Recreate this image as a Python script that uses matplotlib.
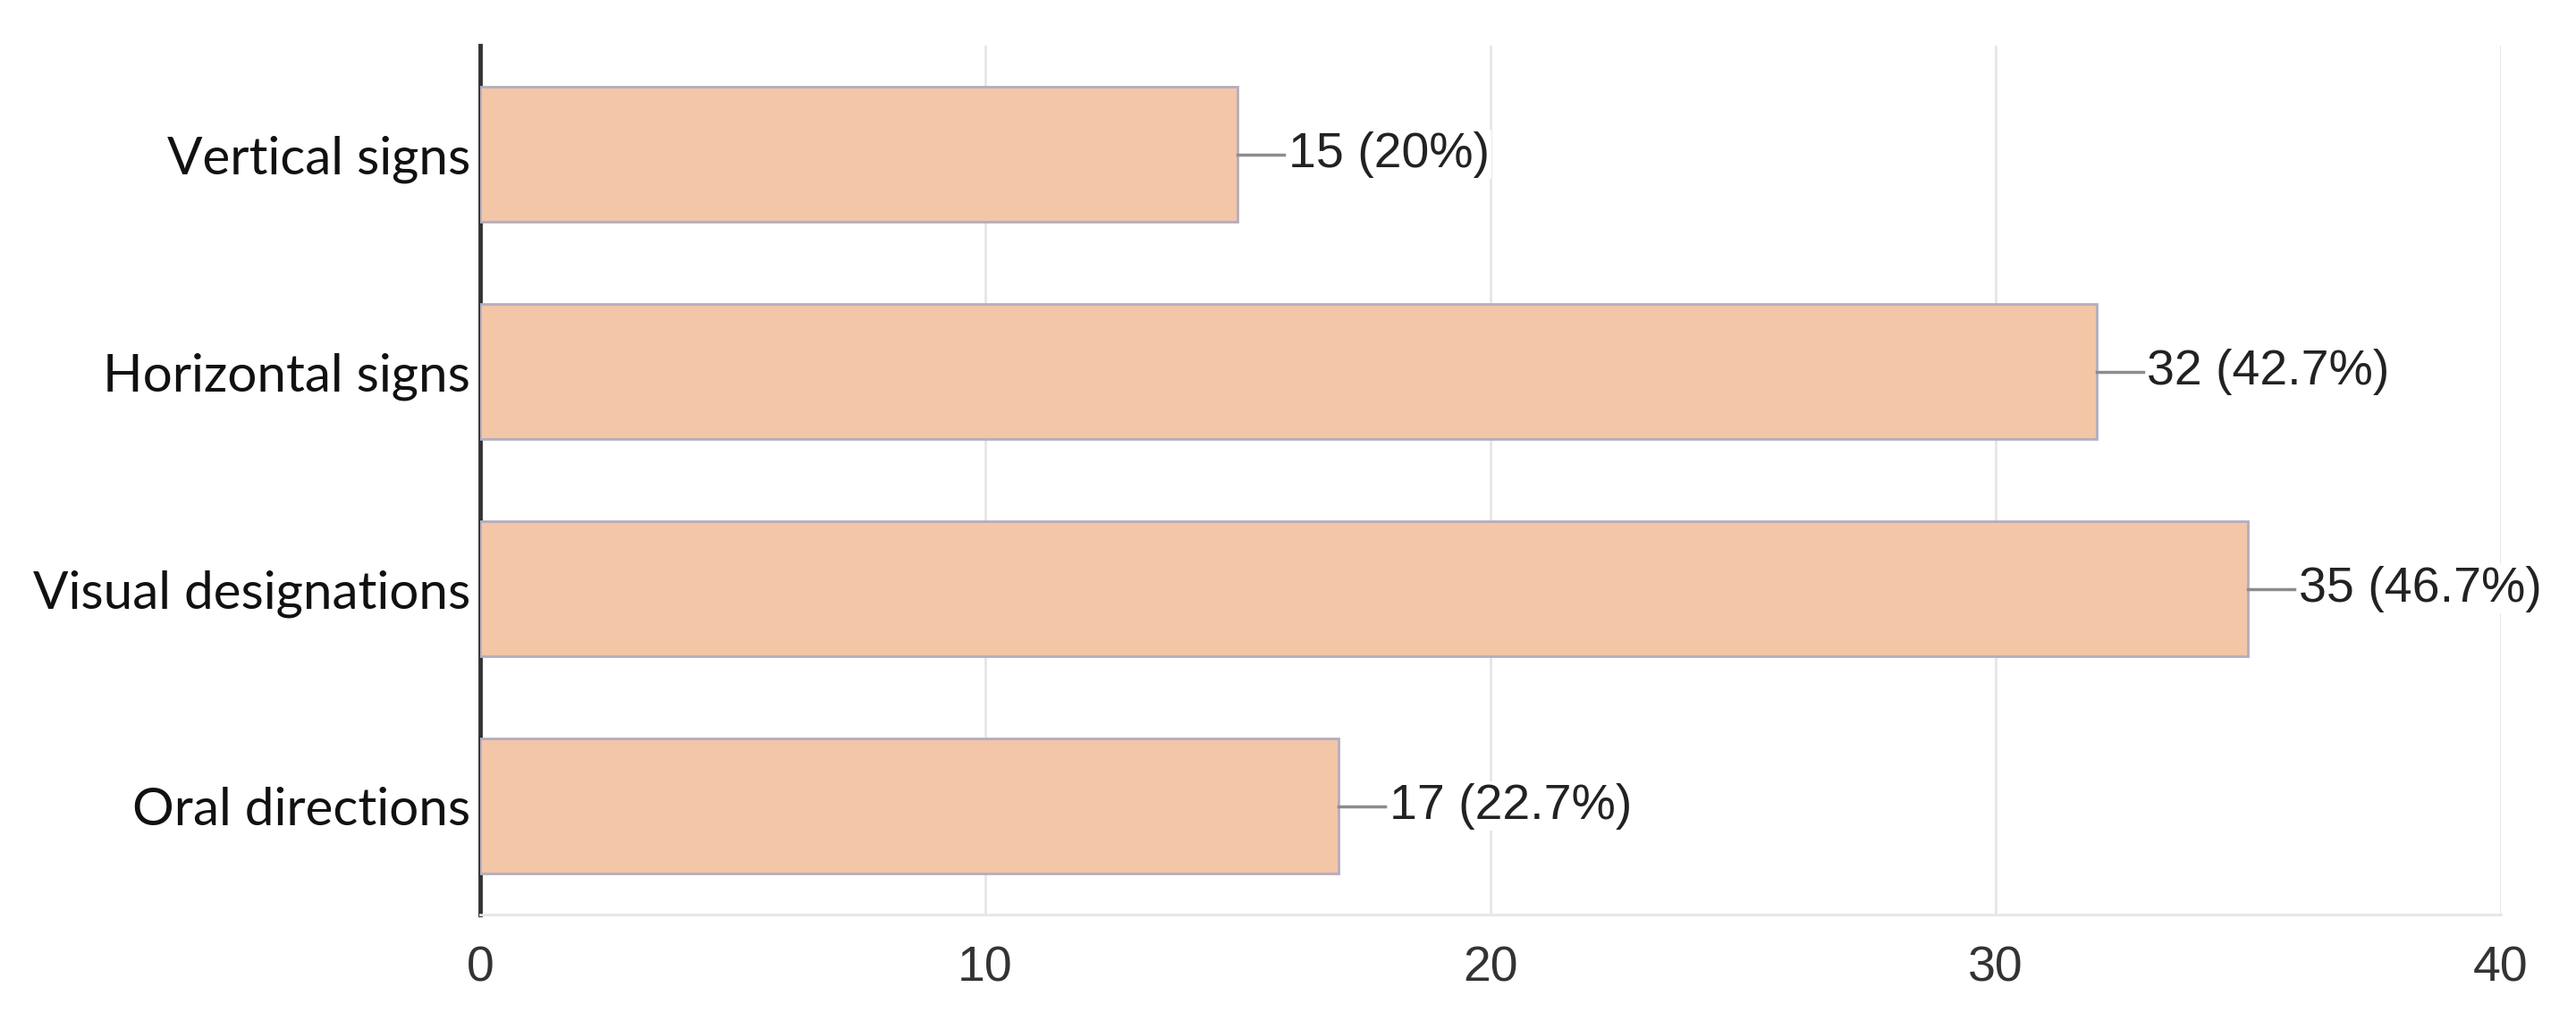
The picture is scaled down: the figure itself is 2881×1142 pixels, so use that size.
import matplotlib
matplotlib.use("Agg")
import matplotlib.pyplot as plt

# data
categories = ["Vertical signs", "Horizontal signs", "Visual designations", "Oral directions"]
counts = [15, 32, 35, 17]
percents = ["20%", "42.7%", "46.7%", "22.7%"]
xticks = [0, 10, 20, 30, 40]

fig = plt.figure(figsize=(28.81, 11.42), dpi=100)
ax = fig.add_axes([0.1864, 0.1042, 0.7844, 0.8511])

ypos = list(range(len(categories)))
ax.barh(ypos, counts, height=0.62, color="#F2C6A7", edgecolor="#B3ADBE", linewidth=2.0, zorder=3)

ax.set_xlim(0, 40)
ax.set_ylim(len(categories) - 0.5, -0.5)
ax.set_xticks(xticks)
ax.set_xticklabels([str(t) for t in xticks], fontfamily="Liberation Sans", fontsize=40, color="#333333")
ax.set_yticks(ypos)
ax.set_yticklabels(categories, fontfamily="Lato", fontsize=42, color="#111111")
ax.tick_params(axis="both", length=0)
ax.tick_params(axis="x", pad=25)
ax.tick_params(axis="y", pad=8)

ax.grid(axis="x", color="#E6E6E6", linewidth=2.0, zorder=0)
for s in ["top", "right"]:
    ax.spines[s].set_visible(False)
ax.spines["left"].set_color("#333333")
ax.spines["left"].set_linewidth(3.5)
ax.spines["bottom"].set_color("#E6E6E6")
ax.spines["bottom"].set_linewidth(2.0)

# value labels with short leader lines
for y, c, p in zip(ypos, counts, percents):
    ax.plot([c, c + 0.92], [y, y], color="#8C8C8C", linewidth=2.5, zorder=4)
    ax.text(c + 1.0, y, f"{c} ({p})", va="center", ha="left",
            fontfamily="Liberation Sans", fontsize=40, color="#222222", zorder=5,
            bbox=dict(facecolor="white", edgecolor="none", pad=1))

fig.savefig("out.png", dpi=100, facecolor="white")
